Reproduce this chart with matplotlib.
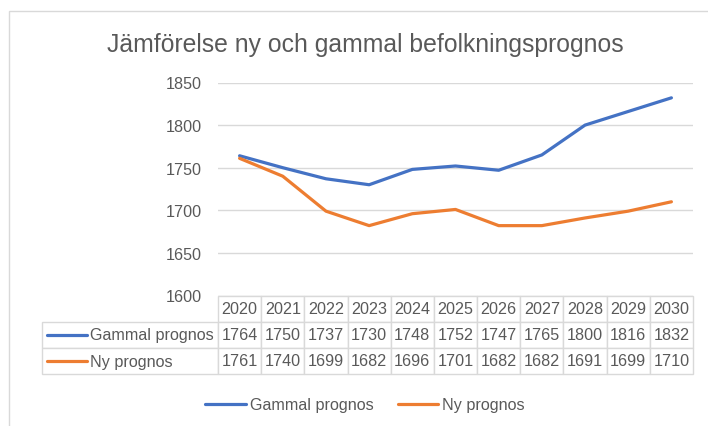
import matplotlib
matplotlib.use("Agg")
import matplotlib.pyplot as plt
from matplotlib.lines import Line2D
from matplotlib.patches import Rectangle

years = ["2020", "2021", "2022", "2023", "2024", "2025", "2026", "2027", "2028", "2029", "2030"]
gammal = [1764, 1750, 1737, 1730, 1748, 1752, 1747, 1765, 1800, 1816, 1832]
ny = [1761, 1740, 1699, 1682, 1696, 1701, 1682, 1682, 1691, 1699, 1710]
series_names = ["Gammal prognos", "Ny prognos"]
title = "Jämförelse ny och gammal befolkningsprognos"
yticks = [1600, 1650, 1700, 1750, 1800, 1850]

plt.rcParams['font.family'] = ['Liberation Sans', 'DejaVu Sans']
TXT = "#595959"
GRID = "#d9d9d9"
BLUE = "#4472C4"
ORANGE = "#ED7D31"
W, H = 708, 427
FS = 11.6

def fx(x):
    return x / W

def fy(y):
    return 1 - y / H

fig = plt.figure(figsize=(W / 100, H / 100), dpi=100)
fig.patches.append(Rectangle((fx(8.5), fy(440)), 1.2, fy(11.5) - fy(440), transform=fig.transFigure,
                             fill=False, edgecolor=GRID, lw=1.0))

L, R, T, B = 218, 693, 83.5, 296.5
ax = fig.add_axes([fx(L), fy(B), fx(R) - fx(L), fy(T) - fy(B)])
x = list(range(len(years)))
colors = [BLUE, ORANGE]
handles = []
for vals, c, name in zip([gammal, ny], colors, series_names):
    h, = ax.plot(x, vals, color=c, lw=2.3, solid_capstyle='round', label=name, zorder=3)
    handles.append(h)
ax.set_xlim(-0.5, len(years) - 0.5)
ax.set_ylim(yticks[0], yticks[-1])
ax.set_yticks(yticks)
ax.set_yticklabels([str(t) for t in yticks])
ax.set_xticks([])
ax.grid(axis='y', color=GRID, lw=1.0)
ax.set_axisbelow(True)
for s in ax.spines.values():
    s.set_visible(False)
ax.tick_params(axis='y', length=0, pad=11.5, labelsize=FS, labelcolor=TXT)

# data table in its own axes
tl, tr = 42, 693
row_h = 26.2
tb = B + 3 * row_h
axt = fig.add_axes([fx(tl), fy(tb), fx(tr) - fx(tl), fy(B) - fy(tb)])
axt.axis('off')
lab_w = (L - tl)
col_w = (tr - L) / len(years)
tot = lab_w + col_w * len(years)
cell_text = [[""] + [str(v) for v in gammal], [""] + [str(v) for v in ny]]
tab = axt.table(cellText=cell_text, colLabels=[""] + years,
                colWidths=[lab_w / tot] + [col_w / tot] * len(years),
                cellLoc='center', bbox=[0, 0, 1, 1])
tab.auto_set_font_size(False)
for (r, cidx), cell in tab.get_celld().items():
    cell.set_edgecolor(GRID)
    cell.set_linewidth(1.0)
    cell.get_text().set_color(TXT)
    cell.get_text().set_fontsize(FS)
tab[0, 0].visible_edges = ''

for i, (name, c) in enumerate(zip(series_names, colors)):
    yc = B + row_h * (i + 1.5)
    fig.add_artist(Line2D([fx(47), fx(87)], [fy(yc), fy(yc)], transform=fig.transFigure,
                          color=c, lw=2.3, solid_capstyle='round', zorder=5))
    fig.text(fx(90), fy(yc), name, color=TXT, fontsize=FS, ha='left', va='center', zorder=5)

fig.text(fx(365), fy(45), title, color=TXT, fontsize=17.8, ha='center', va='center')

fig.legend(handles=handles, labels=series_names, loc='center', bbox_to_anchor=(fx(365), fy(406)),
           ncol=2, frameon=False, fontsize=FS, labelcolor=TXT, handlelength=2.5,
           handletextpad=0.25, columnspacing=1.5)

fig.savefig("out.png", dpi=100)
